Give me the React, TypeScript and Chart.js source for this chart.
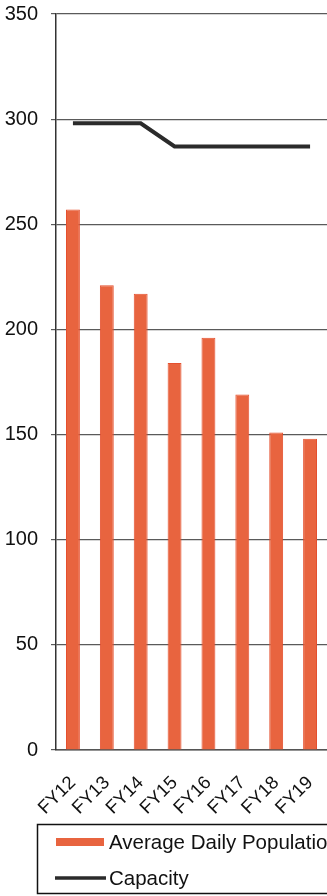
import React, { useEffect, useRef } from "react";
import { Chart, registerables } from "chart.js";

Chart.register(...registerables);

const categories = ["FY12", "FY13", "FY14", "FY15", "FY16", "FY17", "FY18", "FY19"];
const population = [257, 221, 217, 184, 196, 169, 151, 148];
const capacity = [298, 298, 298, 287, 287, 287, 287, 287];
const yTicks = [0, 50, 100, 150, 200, 250, 300, 350];

const FONT = "'Liberation Sans', Arial, sans-serif";
const BAR_COLOR = "#E8643F";
const LINE_COLOR = "#2b2b2b";

// Boxed legend below the axis labels, built from the dataset labels and colours.
const boxedLegend = {
  id: "boxedLegend",
  afterDraw(chart: any) {
    const ctx = chart.ctx;
    const ds = chart.data.datasets;
    const bar = ds.find((d: any) => d.type === "bar");
    const line = ds.find((d: any) => d.type === "line");
    ctx.save();
    ctx.strokeStyle = "#111";
    ctx.lineWidth = 1.5;
    ctx.strokeRect(37.5, 824.5, 320, 69);

    ctx.font = `20.5px ${FONT}`;
    ctx.textBaseline = "middle";
    ctx.textAlign = "left";

    ctx.fillStyle = bar.backgroundColor;
    ctx.fillRect(56, 838, 48, 8);
    ctx.fillStyle = "#111";
    ctx.fillText(bar.label, 109, 843);

    ctx.strokeStyle = line.borderColor;
    ctx.lineWidth = 3.5;
    ctx.beginPath();
    ctx.moveTo(55, 878);
    ctx.lineTo(106, 878);
    ctx.stroke();
    ctx.fillText(line.label, 109, 879);
    ctx.restore();
  },
};

export default function App() {
  const ref = useRef<HTMLCanvasElement>(null);

  useEffect(() => {
    document.body.style.margin = "0";
    const chart = new Chart(ref.current!, {
      type: "bar",
      data: {
        labels: categories,
        datasets: [
          {
            type: "line",
            label: "Capacity",
            data: capacity,
            borderColor: LINE_COLOR,
            borderWidth: 4,
            pointRadius: 0,
            tension: 0,
            order: 0,
          } as any,
          {
            type: "bar",
            label: "Average Daily Population",
            data: population,
            backgroundColor: BAR_COLOR,
            borderColor: "#E5502F",
            borderWidth: 1,
            barPercentage: 0.41,
            categoryPercentage: 1,
            order: 1,
          } as any,
        ],
      },
      options: {
        animation: false,
        responsive: false,
        layout: { padding: { top: 14, right: 0, bottom: 0, left: 0 } },
        plugins: { legend: { display: false }, tooltip: { enabled: false } },
        scales: {
          x: {
            grid: { display: false },
            border: { display: true, color: "#555", width: 1.5 },
            ticks: {
              color: "#111",
              font: { family: FONT, size: 18.5 },
              maxRotation: 45,
              minRotation: 45,
              padding: 14,
              autoSkip: false,
            },
            afterFit(scale: any) {
              scale.height = 146;
              scale.paddingLeft = 0;
              scale.paddingRight = 0;
            },
          },
          y: {
            min: 0,
            max: 350,
            afterBuildTicks(scale: any) {
              scale.ticks = yTicks.map((v) => ({ value: v }));
            },
            grid: { color: "#5a5a5a", lineWidth: 1.2, tickLength: 5 },
            border: { display: true, color: "#333", width: 1.5 },
            ticks: {
              color: "#111",
              font: { family: FONT, size: 20 },
              padding: 13,
            },
            afterFit(scale: any) {
              scale.width = 56;
              scale.paddingTop = 0;
              scale.paddingBottom = 0;
            },
          },
        },
      },
      plugins: [boxedLegend],
    });
    return () => chart.destroy();
  }, []);

  return <canvas ref={ref} width={327} height={896} style={{ display: "block" }} />;
}
